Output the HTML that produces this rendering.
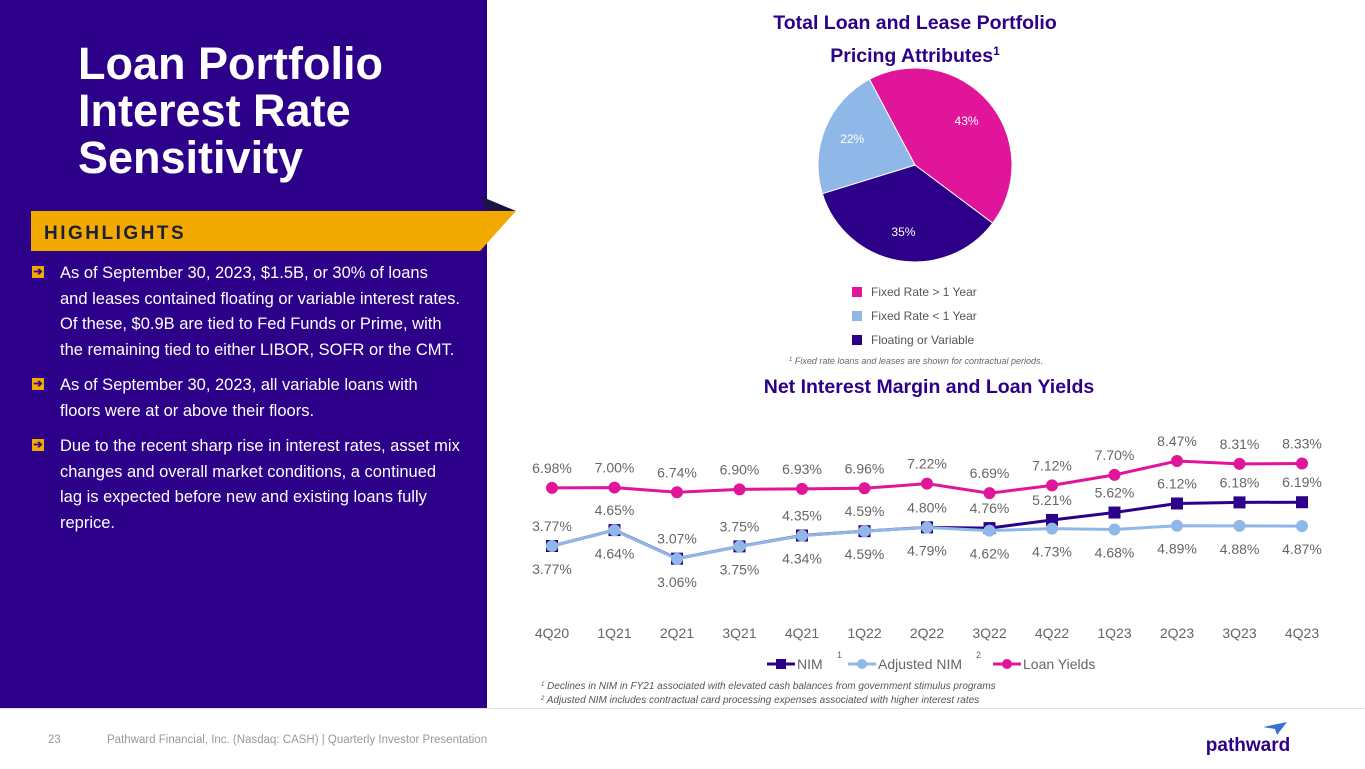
<!DOCTYPE html>
<html><head><meta charset="utf-8">
<style>
html,body{margin:0;padding:0;width:1365px;height:768px;overflow:hidden;background:#fff;font-family:"Liberation Sans",sans-serif;}
#left{position:absolute;left:0;top:0;width:487px;height:708px;background:#2d0089;}
#title{position:absolute;left:78px;top:40px;color:#fff;font-weight:bold;font-size:45px;line-height:47px;margin:0;}
.bul{position:absolute;left:32px;color:#fff;font-size:16.5px;line-height:25.5px;width:440px;white-space:nowrap;}
.bul .ar{position:absolute;left:0;top:5px;width:12px;height:12px;background:#f2aa00;color:#2d0089;font-size:11px;line-height:12px;text-align:center;font-weight:bold;}
.bul p{margin:0 0 0 28px;}
#footer{position:absolute;left:0;top:708px;width:1365px;height:60px;border-top:1px solid #e3e3e3;}
</style></head><body>
<div id="left">
<h1 id="title">Loan Portfolio<br>Interest Rate<br>Sensitivity</h1>
</div>
<svg style="position:absolute;left:0;top:0" width="1365" height="768">
<polygon points="480,196 516,211 487,211" fill="#1a1446"/>
<polygon points="31,211 516,211 480,251 31,251" fill="#f2aa00"/>
<text x="44" y="239" font-family="Liberation Sans" font-weight="bold" font-size="19" letter-spacing="2.5" fill="#1a1f3a">HIGHLIGHTS</text>
</svg>
<div class="bul" style="top:261px"><span class="ar">➔</span><p>As of September 30, 2023, $1.5B, or 30% of loans<br>and leases contained floating or variable interest rates.<br>Of these, $0.9B are tied to Fed Funds or Prime, with<br>the remaining tied to either LIBOR, SOFR or the CMT.</p></div>
<div class="bul" style="top:373px"><span class="ar">➔</span><p>As of September 30, 2023, all variable loans with<br>floors were at or above their floors.</p></div>
<div class="bul" style="top:434px"><span class="ar">➔</span><p>Due to the recent sharp rise in interest rates, asset mix<br>changes and overall market conditions, a continued<br>lag is expected before new and existing loans fully<br>reprice.</p></div>

<svg id="chart" style="position:absolute;left:0;top:0" width="1365" height="768" font-family="Liberation Sans">
<text x="915" y="29" text-anchor="middle" font-size="19.5" font-weight="bold" fill="#2d0089">Total Loan and Lease Portfolio</text>
<text x="915" y="62" text-anchor="middle" font-size="19.5" font-weight="bold" fill="#2d0089">Pricing Attributes<tspan font-size="12" dy="-7">1</tspan></text>
<g id="pie"></g>
<g id="pielegend"></g>
<text x="916" y="364" text-anchor="middle" font-size="9" font-style="italic" fill="#666"><tspan font-size="6" dy="-3">1</tspan><tspan dy="3"> Fixed rate loans and leases are shown for contractual periods.</tspan></text>
<text x="929" y="393" text-anchor="middle" font-size="19.5" font-weight="bold" fill="#2d0089">Net Interest Margin and Loan Yields</text>
<g id="lines"></g>
<g id="linelegend"></g>
<text x="541" y="689" font-size="10" font-style="italic" fill="#555"><tspan font-size="6" dy="-3">1</tspan><tspan dy="3"> Declines in NIM in FY21 associated with elevated cash balances from government stimulus programs</tspan></text>
<text x="541" y="703" font-size="10" font-style="italic" fill="#555"><tspan font-size="6" dy="-3">2</tspan><tspan dy="3"> Adjusted NIM includes contractual card processing expenses associated with higher interest rates</tspan></text>
<text x="48" y="743" font-size="11.5" fill="#999">23</text>
<text x="107" y="743" font-size="11.5" fill="#999">Pathward Financial, Inc. (Nasdaq: CASH) | Quarterly Investor Presentation</text>
<polygon points="1263,727 1287,722 1277,735 1275,729" fill="#3b6fd4"/>
<text x="1248" y="751" text-anchor="middle" font-size="19" font-weight="bold" fill="#2d0089">pathward</text>
</svg>
<div id="footer"></div>
<script>
const pieLabels=["Fixed Rate > 1 Year","Floating or Variable","Fixed Rate < 1 Year"];
const pieValues=[43,35,22];
const pieColors=["#e0159a","#2d0089","#8fb8e8"];
const quarters=["4Q20","1Q21","2Q21","3Q21","4Q21","1Q22","2Q22","3Q22","4Q22","1Q23","2Q23","3Q23","4Q23"];
const nim=[3.77,4.65,3.07,3.75,4.35,4.59,4.80,4.76,5.21,5.62,6.12,6.18,6.19];
const adjNim=[3.77,4.64,3.06,3.75,4.34,4.59,4.79,4.62,4.73,4.68,4.89,4.88,4.87];
const loanYields=[6.98,7.00,6.74,6.90,6.93,6.96,7.22,6.69,7.12,7.70,8.47,8.31,8.33];
const NS="http://www.w3.org/2000/svg";
function mk(tag,attrs,parent){const e=document.createElementNS(NS,tag);for(const k in attrs)e.setAttribute(k,attrs[k]);parent.appendChild(e);return e;}
const pie=document.getElementById('pie');
const cx=915,cy=165,r=97;let start=-28;const tot=pieValues.reduce((a,b)=>a+b,0);
pieValues.forEach((v,i)=>{
  const sweep=v/tot*360,a0=start*Math.PI/180,a1=(start+sweep)*Math.PI/180;
  const x0=cx+r*Math.sin(a0),y0=cy-r*Math.cos(a0),x1=cx+r*Math.sin(a1),y1=cy-r*Math.cos(a1);
  const p=mk('path',{d:`M${cx},${cy}L${x0},${y0}A${r},${r} 0 ${sweep>180?1:0} 1 ${x1},${y1}Z`,fill:pieColors[i],stroke:'#fff','stroke-width':1},pie);
  
  
  const am=(start+sweep/2)*Math.PI/180,lr=r*0.7;
  const t=mk('text',{x:cx+lr*Math.sin(am),y:cy-lr*Math.cos(am)+4,'text-anchor':'middle','font-size':12,fill:'#fff'},pie);
  t.textContent=v+'%';
  
  
  start+=sweep;
});
const pl=document.getElementById('pielegend');
[0,2,1].forEach((i,k)=>{
  const y=292+k*24;
  const s=mk('rect',{x:852,y:y-5,width:10,height:10,fill:pieColors[i]},pl);
  
  
  const t=mk('text',{x:871,y:y+4,'font-size':12,fill:'#555'},pl);
  t.textContent=pieLabels[i];
  
  
});
const g=document.getElementById('lines');
const X=i=>552+i*62.5;
const Y=v=>546-(v-3.77)*18.09;
quarters.forEach((q,i)=>{
  const t=mk('text',{x:X(i),y:638,'text-anchor':'middle','font-size':14,fill:'#666'},g);
  t.textContent=q;
  
  
});
function series(vals,color,marker,labelDy,name){
  const pl=mk('polyline',{points:vals.map((v,i)=>X(i)+','+Y(v)).join(' '),fill:'none',stroke:color,'stroke-width':3},g);
  
  
  vals.forEach((v,i)=>{
    let m;
    if(marker==='sq'){m=mk('rect',{x:X(i)-6,y:Y(v)-6,width:12,height:12,fill:color},g);}
    else{m=mk('circle',{cx:X(i),cy:Y(v),r:6,fill:color},g);}
    
    
    const t=mk('text',{x:X(i),y:Y(v)+labelDy,'text-anchor':'middle','font-size':14,fill:'#666'},g);
    t.textContent=v.toFixed(2)+'%';
    
    
  });
}
series(loanYields,'#e0159a','c',-15,'loan-yields');
series(nim,'#2d0089','sq',-15,'nim');
series(adjNim,'#8fb8e8','c',28,'adjusted-nim');
const lg=document.getElementById('linelegend');
const items=[['NIM','#2d0089','sq','1'],['Adjusted NIM','#8fb8e8','c','2'],['Loan Yields','#e0159a','c','']];
const lx=[767,848,993];
items.forEach((it,k)=>{
  const x=lx[k],y=664;
  const l=mk('line',{x1:x,y1:y,x2:x+28,y2:y,stroke:it[1],'stroke-width':3},lg);
  
  
  const m=it[2]==='sq'?mk('rect',{x:x+9,y:y-5,width:10,height:10,fill:it[1]},lg):mk('circle',{cx:x+14,cy:y,r:5,fill:it[1]},lg);
  
  
  const t=mk('text',{x:x+30,y:y+5,'font-size':14,fill:'#666'},lg);
  t.textContent=it[0];
  
  
  if(it[3]){const s=mk('text',{x:x+30+(k===0?40:98),y:y-6,'font-size':9,fill:'#666'},lg);s.textContent=it[3];
  
  }
});
</script>
</body></html>
